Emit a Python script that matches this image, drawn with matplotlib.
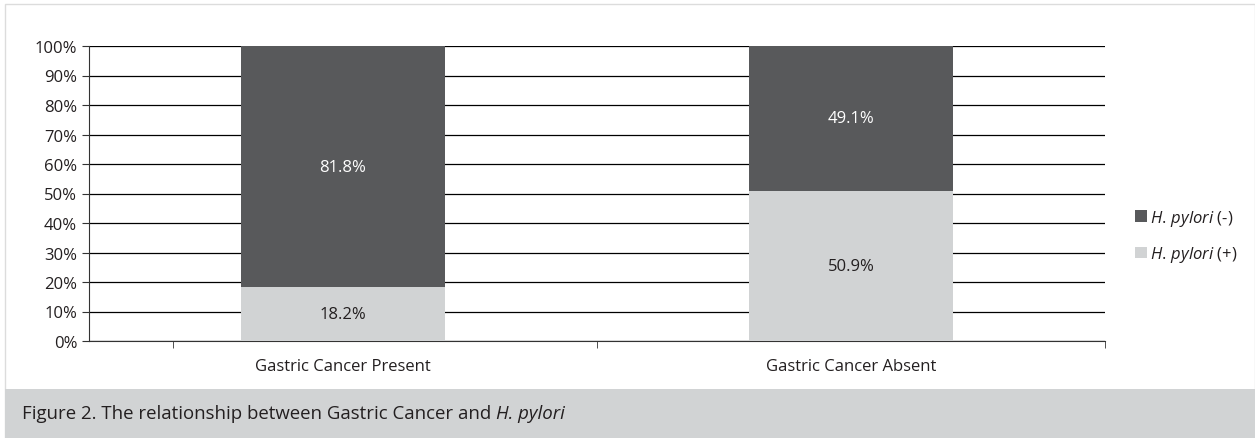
import matplotlib.pyplot as plt
from matplotlib.patches import Rectangle

# data
groups = ["Gastric Cancer Present", "Gastric Cancer Absent"]
hp_pos = [18.2, 50.9]   # H. pylori (+)
hp_neg = [81.8, 49.1]   # H. pylori (-)

dark = "#58595b"
light = "#d1d3d4"

plt.rcParams['font.family'] = ['Open Sans', 'DejaVu Sans']
plt.rcParams['mathtext.fontset'] = 'custom'
plt.rcParams['mathtext.it'] = 'Open Sans:italic'
plt.rcParams['mathtext.rm'] = 'Open Sans'

fig = plt.figure(figsize=(12.55, 4.39), dpi=100)
W, H = 1255, 439

# outer frame and caption band
fig.patches.append(Rectangle((5 / W, 0), 1 - 5 / W, 1 - 5 / H, transform=fig.transFigure,
                             fill=False, edgecolor="#dcdcdc", linewidth=1))
fig.patches.append(Rectangle((5 / W, 0), 1 - 5 / W, (439 - 390) / H, transform=fig.transFigure,
                             facecolor=light, edgecolor="none"))
cap = fig.text(22 / W, (439 - 414) / H, "Figure 2. The relationship between Gastric Cancer and ",
               fontsize=13.4, va="center", ha="left", color="#231f20")
fig.canvas.draw()
bb = cap.get_window_extent()
fig.text(bb.x1 / W, (439 - 414) / H, "H. pylori", style="italic",
         fontsize=13.4, va="center", ha="left", color="#231f20")

ax = fig.add_axes([89 / W, (439 - 342) / H, 1016 / W, 295 / H])
x = [0, 1]
ax.bar(x, hp_pos, width=0.4, color=light, zorder=3)
ax.bar(x, hp_neg, width=0.4, bottom=hp_pos, color=dark, zorder=3)

for i in range(len(x)):
    ax.text(x[i], hp_pos[i] / 2, f"{hp_pos[i]:.1f}%", ha="center", va="center",
            fontsize=12, color="#231f20", zorder=4)
    ax.text(x[i], hp_pos[i] + hp_neg[i] / 2, f"{hp_neg[i]:.1f}%", ha="center", va="center",
            fontsize=12, color="white", zorder=4)

ax.set_xlim(-0.5, 1.5)
ax.set_ylim(0, 100)
ax.set_yticks(range(0, 101, 10))
ax.set_yticklabels([f"{v}%" for v in range(0, 101, 10)], fontsize=12, color="#231f20")
ax.yaxis.grid(True, color="black", linewidth=0.9)
ax.set_axisbelow(True)

ax.set_xticks(x)
ax.set_xticklabels(groups, fontsize=12, color="#231f20")
ax.tick_params(axis="x", length=0, pad=12)
ax.set_xticks([-0.335, 0.5, 1.5], minor=True)
ax.tick_params(axis="x", which="minor", length=5, color="#333333")
ax.tick_params(axis="y", length=5, color="#333333")

for s in ["top", "right"]:
    ax.spines[s].set_visible(False)
ax.spines["left"].set_color("#333333")
ax.spines["bottom"].set_color("#333333")

# legend
hn = Rectangle((0, 0), 1, 1, facecolor=dark)
hp = Rectangle((0, 0), 1, 1, facecolor=light)
leg = fig.legend([hn, hp], ["$\\mathit{H.\\,pylori}$ (-)", "$\\mathit{H.\\,pylori}$ (+)"],
                 loc="center left", bbox_to_anchor=(1120 / W, (439 - 237) / H),
                 frameon=False, fontsize=12, handlelength=0.7, handleheight=0.7,
                 handletextpad=0.2, labelspacing=1.0)
for t in leg.get_texts():
    t.set_color("#231f20")

fig.savefig("out.png", dpi=100)
